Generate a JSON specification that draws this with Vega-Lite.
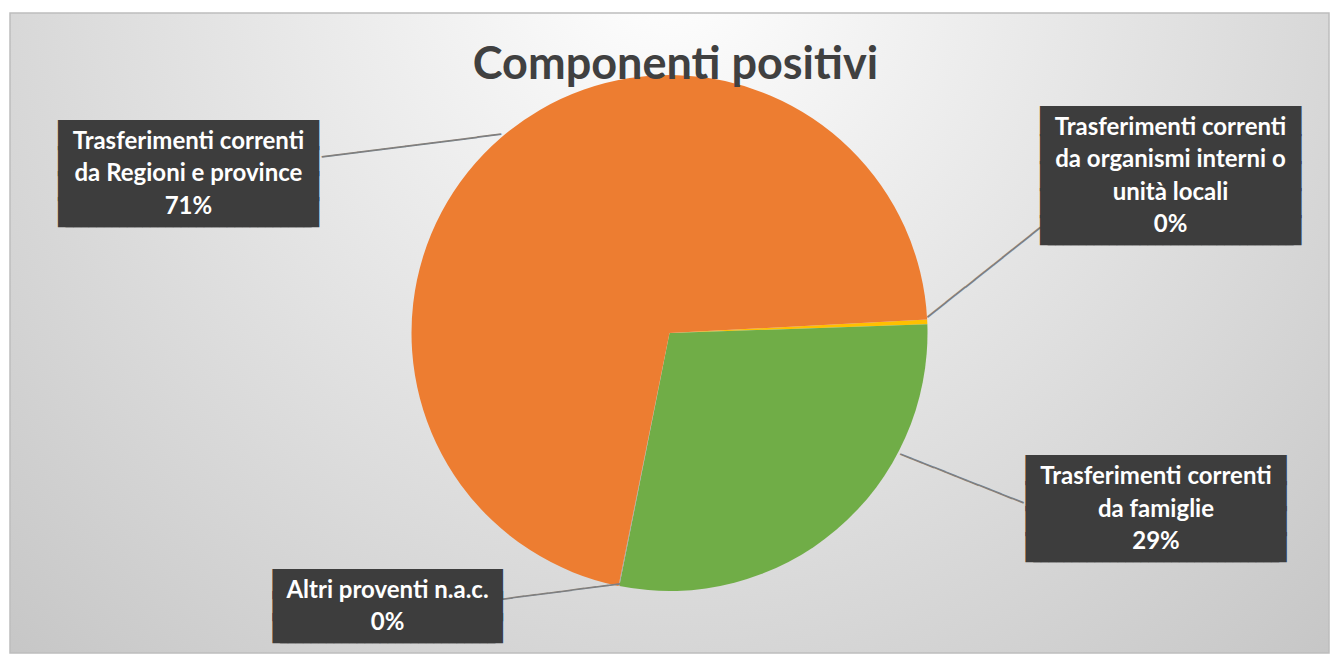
{
  "$schema": "https://vega.github.io/schema/vega-lite/v6.json",
  "autosize": {"type": "fit", "contains": "padding"},
  "width": 1330,
  "height": 654,
  "padding": {"top": 12, "left": 9, "right": 0, "bottom": 0},
  "background": "#ffffff",
  "config": {"view": {"stroke": null}},
  "title": {
    "text": "Componenti positivi",
    "font": "Lato",
    "fontSize": 45,
    "fontWeight": "bold",
    "color": "#404040",
    "anchor": "middle",
    "offset": -76,
    "dx": 6
  },
  "data": {
    "values": [
      {"name": "Trasferimenti correnti da organismi interni o unità locali", "value": 0.3, "label": ["Trasferimenti correnti", "da organismi interni o", "unità locali", "0%"]},
      {"name": "Trasferimenti correnti da famiglie", "value": 28.65, "label": ["Trasferimenti correnti", "da famiglie", "29%"]},
      {"name": "Altri proventi n.a.c.", "value": 0.05, "label": ["Altri proventi n.a.c.", "0%"]},
      {"name": "Trasferimenti correnti da Regioni e province", "value": 71.0, "label": ["Trasferimenti correnti", "da Regioni e province", "71%"]}
    ]
  },
  "transform": [
    {"window": [{"op": "row_number", "as": "ord"}]},
    {"stack": "value", "groupby": [], "sort": [{"field": "ord", "order": "ascending"}], "as": ["v0", "v1"]}
  ],
  "layer": [
    {
      "transform": [{"filter": "datum.ord == 1"}],
      "mark": {
        "type": "rect",
        "stroke": "#bdbdbd",
        "strokeWidth": 1.5,
        "fill": {
          "gradient": "radial",
          "x1": 0.5, "y1": 0.22, "r1": 0,
          "x2": 0.5, "y2": 0.22, "r2": 0.78,
          "stops": [
            {"offset": 0, "color": "#ffffff"},
            {"offset": 1, "color": "#c2c2c2"}
          ]
        }
      },
      "encoding": {}
    },
    {
      "mark": {"type": "arc", "outerRadius": 258, "stroke": null},
      "encoding": {
        "theta": {"field": "v0", "type": "quantitative", "scale": {"domain": [0, 100], "range": [1.5184, 7.8016]}},
        "theta2": {"field": "v1"},
        "color": {
          "field": "name", "type": "nominal", "legend": null,
          "scale": {
            "domain": ["Trasferimenti correnti da organismi interni o unità locali", "Trasferimenti correnti da famiglie", "Altri proventi n.a.c.", "Trasferimenti correnti da Regioni e province"],
            "range": ["#ffc000", "#70ad47", "#a5a5a5", "#ed7d31"]
          }
        }
      }
    },
    {
      "transform": [{"filter": "datum.ord == 4"}],
      "layer": [
        {
          "mark": {"type": "text", "radius": 318.3, "thetaOffset": 1.998, "angle": -7.2, "font": "DejaVu Sans Mono", "fontSize": 20, "baseline": "middle", "align": "center", "color": "#7f7f7f",
            "text": "───────────────"},
          "encoding": {"theta": {"field": "v0", "type": "quantitative"}}
        },
        {
          "mark": {"type": "text", "radius": 507, "thetaOffset": 1.693, "dy": -36.6, "font": "DejaVu Sans Mono", "fontSize": 25.5, "lineHeight": 25.4, "baseline": "middle", "align": "center", "color": "#3d3d3d",
            "text": ["█████████████████", "█████████████████", "█████████████████", "█████████████████"]},
          "encoding": {"theta": {"field": "v0", "type": "quantitative"}}
        },
        {
          "mark": {"type": "text", "radius": 507, "thetaOffset": 1.693, "dy": -36.6, "font": "DejaVu Sans Mono", "fontSize": 25.5, "lineHeight": 25.4, "baseline": "middle", "align": "center", "color": "#3d3d3d",
            "text": ["████████████████", "████████████████", "████████████████", "████████████████"]},
          "encoding": {"theta": {"field": "v0", "type": "quantitative"}}
        },
        {
          "mark": {"type": "text", "radius": 507, "thetaOffset": 1.693, "dy": -31, "font": "Lato", "fontWeight": "bold", "fontSize": 24, "lineHeight": 32.5, "baseline": "middle", "align": "center", "color": "#ffffff"},
          "encoding": {"theta": {"field": "v0", "type": "quantitative"}, "text": {"field": "label"}}
        }
      ]
    },
    {
      "transform": [{"filter": "datum.ord == 1"}],
      "layer": [
        {
          "mark": {"type": "text", "radius": 320.7, "thetaOffset": -0.136, "angle": -38.5, "font": "DejaVu Sans Mono", "fontSize": 20, "baseline": "middle", "align": "center", "color": "#7f7f7f",
            "text": "────────────"},
          "encoding": {"theta": {"field": "v0", "type": "quantitative"}}
        },
        {
          "mark": {"type": "text", "radius": 525, "thetaOffset": -0.251, "dy": -53.7, "font": "DejaVu Sans Mono", "fontSize": 25.5, "lineHeight": 27.1, "baseline": "middle", "align": "center", "color": "#3d3d3d",
            "text": ["█████████████████", "█████████████████", "█████████████████", "█████████████████", "█████████████████"]},
          "encoding": {"theta": {"field": "v0", "type": "quantitative"}}
        },
        {
          "mark": {"type": "text", "radius": 525, "thetaOffset": -0.251, "dy": -53.7, "font": "DejaVu Sans Mono", "fontSize": 25.5, "lineHeight": 27.1, "baseline": "middle", "align": "center", "color": "#3d3d3d",
            "text": ["████████████████", "████████████████", "████████████████", "████████████████", "████████████████"]},
          "encoding": {"theta": {"field": "v0", "type": "quantitative"}}
        },
        {
          "mark": {"type": "text", "radius": 525, "thetaOffset": -0.251, "dy": -48.25, "font": "Lato", "fontWeight": "bold", "fontSize": 24, "lineHeight": 32.5, "baseline": "middle", "align": "center", "color": "#ffffff"},
          "encoding": {"theta": {"field": "v0", "type": "quantitative"}, "text": {"field": "label"}}
        }
      ]
    },
    {
      "transform": [{"filter": "datum.ord == 2"}],
      "layer": [
        {
          "mark": {"type": "text", "radius": 326.7, "thetaOffset": 0.498, "angle": 21.6, "font": "DejaVu Sans Mono", "fontSize": 20, "baseline": "middle", "align": "center", "color": "#7f7f7f",
            "text": "───────────"},
          "encoding": {"theta": {"field": "v0", "type": "quantitative"}}
        },
        {
          "mark": {"type": "text", "radius": 517, "thetaOffset": 0.379, "dy": -37, "font": "DejaVu Sans Mono", "fontSize": 25.5, "lineHeight": 25.7, "baseline": "middle", "align": "center", "color": "#3d3d3d",
            "text": ["█████████████████", "█████████████████", "█████████████████", "█████████████████"]},
          "encoding": {"theta": {"field": "v0", "type": "quantitative"}}
        },
        {
          "mark": {"type": "text", "radius": 517, "thetaOffset": 0.379, "dy": -37, "font": "DejaVu Sans Mono", "fontSize": 25.5, "lineHeight": 25.7, "baseline": "middle", "align": "center", "color": "#3d3d3d",
            "text": ["████████████████", "████████████████", "████████████████", "████████████████"]},
          "encoding": {"theta": {"field": "v0", "type": "quantitative"}}
        },
        {
          "mark": {"type": "text", "radius": 517, "thetaOffset": 0.379, "dy": -31, "font": "Lato", "fontWeight": "bold", "fontSize": 24, "lineHeight": 32.5, "baseline": "middle", "align": "center", "color": "#ffffff"},
          "encoding": {"theta": {"field": "v0", "type": "quantitative"}, "text": {"field": "label"}}
        }
      ]
    },
    {
      "transform": [{"filter": "datum.ord == 3"}],
      "layer": [
        {
          "mark": {"type": "text", "radius": 281.5, "thetaOffset": 0.2025, "angle": -7.4, "font": "DejaVu Sans Mono", "fontSize": 20, "baseline": "middle", "align": "center", "color": "#7f7f7f",
            "text": "──────────"},
          "encoding": {"theta": {"field": "v0", "type": "quantitative"}}
        },
        {
          "mark": {"type": "text", "radius": 392, "thetaOffset": 0.607, "dy": -20.7, "font": "DejaVu Sans Mono", "fontSize": 25.5, "lineHeight": 22.2, "baseline": "middle", "align": "center", "color": "#3d3d3d",
            "text": ["███████████████", "███████████████", "███████████████"]},
          "encoding": {"theta": {"field": "v0", "type": "quantitative"}}
        },
        {
          "mark": {"type": "text", "radius": 392, "thetaOffset": 0.607, "dy": -20.7, "font": "DejaVu Sans Mono", "fontSize": 25.5, "lineHeight": 22.2, "baseline": "middle", "align": "center", "color": "#3d3d3d",
            "text": ["██████████████", "██████████████", "██████████████"]},
          "encoding": {"theta": {"field": "v0", "type": "quantitative"}}
        },
        {
          "mark": {"type": "text", "radius": 392, "thetaOffset": 0.607, "dy": -14.75, "font": "Lato", "fontWeight": "bold", "fontSize": 24, "lineHeight": 32.5, "baseline": "middle", "align": "center", "color": "#ffffff"},
          "encoding": {"theta": {"field": "v0", "type": "quantitative"}, "text": {"field": "label"}}
        }
      ]
    }
  ]
}
